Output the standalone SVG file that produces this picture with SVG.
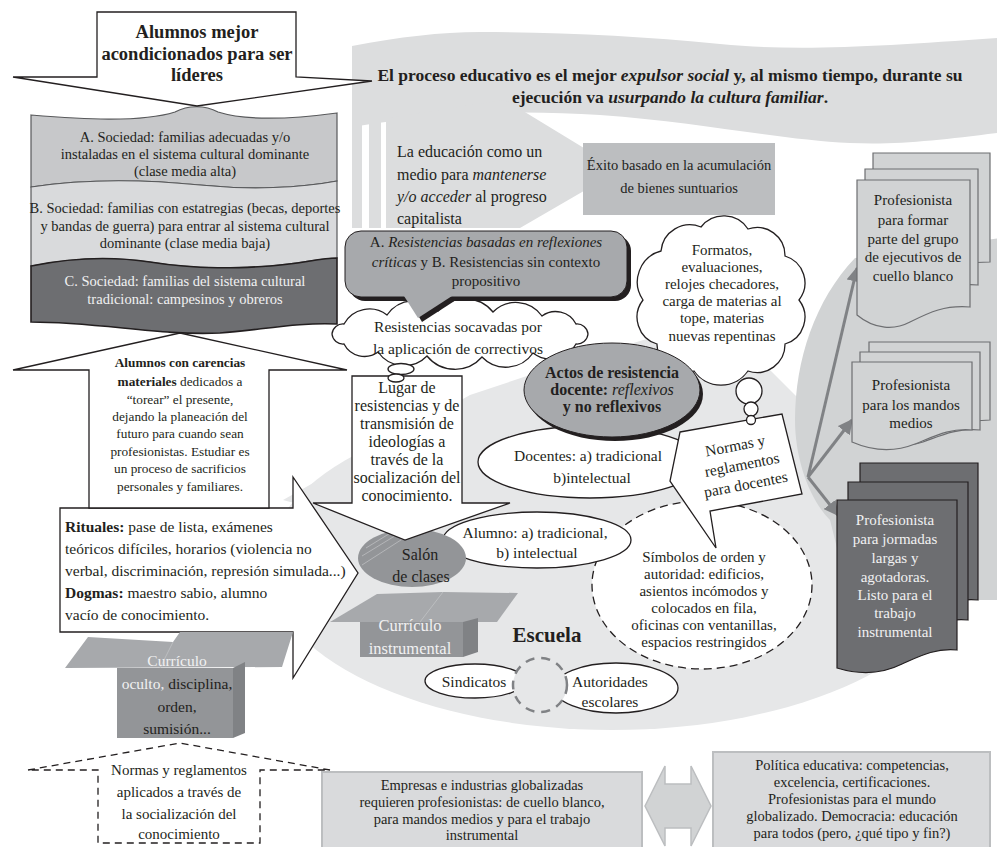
<svg xmlns="http://www.w3.org/2000/svg" width="997" height="847" viewBox="0 0 997 847">
<defs>
<style>
.t{font-family:"Liberation Serif","DejaVu Serif",serif;fill:#231f20;}
.c{text-anchor:middle;}
.b{font-weight:bold;}
.i{font-style:italic;}
.n{font-weight:normal;}
.w{fill:#f1f1f2;}
.o{stroke:#231f20;stroke-width:1.3;}
.pl{fill:#d1d3d4;stroke:#6d6e71;stroke-width:1.2;}
.pd{fill:#6d6e71;stroke:#231f20;stroke-width:1.2;}
.bx{fill:#d9dadc;stroke:#bcbec0;stroke-width:2;}
.ar{stroke:#808285;stroke-width:3;fill:none;}
</style>
<marker id="ah" viewBox="0 0 10 10" refX="9" refY="5" markerWidth="5" markerHeight="5" orient="auto"><path d="M0,0 L10,5 L0,10 z" fill="#808285"/></marker>
</defs>
<rect width="997" height="847" fill="#ffffff"/>

<g id="background">
<path d="M352,46 C400,37 440,32 480,32 C560,32 640,36 720,44 C800,52 880,46 997,38 L997,133 C940,140 900,145 850,143 C780,140 700,122 600,115 C520,110 440,112 352,127 Z" fill="#dcddde"/>
<rect x="352" y="118" width="10" height="110" fill="#dcddde"/>
<rect x="369" y="118" width="12" height="110" fill="#dcddde"/>
<path d="M386,118 L505,100 L620,170 L520,228 L386,228 Z" fill="#dcddde"/>
<ellipse cx="612" cy="565" rx="345" ry="165" fill="#e6e7e8"/>
<path d="M283,500 L470,395 L560,365 L660,335 L760,360 L830,430 L830,560 L500,560 Z" fill="#e6e7e8"/>
<path d="M855,258 C815,300 795,360 795,420 C795,460 810,500 830,520 L850,600 L1000,600 L1000,238 Z" fill="#d1d3d4"/>
</g>

<g id="title">
<text class="t b c" x="670" y="81" font-size="17.5">El proceso educativo es el mejor <tspan class="i">expulsor social</tspan> y, al mismo tiempo, durante su</text>
<text class="t b c" x="670" y="103" font-size="17.5">ejecución va <tspan class="i">usurpando la cultura familiar</tspan>.</text>
</g>

<g id="educacion-medio">
<text class="t" x="397" y="157" font-size="16">La educación como un</text>
<text class="t" x="397" y="180" font-size="16">medio para <tspan class="i">mantenerse</tspan></text>
<text class="t" x="397" y="202" font-size="16"><tspan class="i">y/o acceder</tspan> al progreso</text>
<text class="t" x="397" y="224" font-size="16">capitalista</text>
</g>

<g id="exito">
<rect x="583" y="143" width="192" height="72" fill="#bcbec0"/>
<text class="t c" x="679" y="170" font-size="14.5">Éxito basado en la acumulación</text>
<text class="t c" x="679" y="193" font-size="14.5">de bienes suntuarios</text>
</g>

<g id="sociedad">
<path d="M31,115 C80,119 140,123 175,112 C188,105 205,105 218,112 C250,122 300,118 337,113 L337,181 C300,188 250,190 200,185 C150,180 90,178 31,187 Z" fill="#c7c8ca" stroke="#58595b" stroke-width="1.2"/>
<path d="M31,187 C90,178 150,180 200,185 C250,190 300,188 337,181 L337,258 C320,258 300,264 270,266 C240,268 200,270 150,262 C110,256 70,258 31,266 Z" fill="#d9dadc" stroke="#58595b" stroke-width="1.2"/>
<path d="M31,266 C70,258 110,256 150,262 C200,270 240,268 270,266 C300,264 320,258 337,258 L337,324 C300,322 260,330 220,333 C160,336 100,322 31,322 Z" fill="#6d6e71" stroke="#231f20" stroke-width="1.6"/>
<text class="t c" x="185" y="142" font-size="14.5">A. Sociedad: familias adecuadas y/o</text>
<text class="t c" x="185" y="159" font-size="14.5">instaladas en el sistema cultural dominante</text>
<text class="t c" x="185" y="176" font-size="14.5">(clase media alta)</text>
<text class="t c" x="185" y="213" font-size="14.5">B. Sociedad: familias con estatregias (becas, deportes</text>
<text class="t c" x="185" y="231" font-size="14.5">y bandas de guerra) para entrar al sistema cultural</text>
<text class="t c" x="185" y="248" font-size="14.5">dominante (clase media baja)</text>
<text class="t c w" x="185" y="286" font-size="14.5">C. Sociedad: familias del sistema cultural</text>
<text class="t c w" x="185" y="304" font-size="14.5">tradicional: campesinos y obreros</text>
</g>

<g id="alumnos-mejor">
<path d="M97,12 L296,12 L296,77 L372,81 L197,106 L13,77 L97,77 Z" fill="#ffffff" class="o"/>
<text class="t b c" x="197" y="38" font-size="18.5">Alumnos mejor</text>
<text class="t b c" x="197" y="60" font-size="18.5">acondicionados para ser</text>
<text class="t b c" x="197" y="81" font-size="18.5">líderes</text>
</g>

<g id="formatos">
<path d="M643,300 A32 32 0 0 1 661,251 A29 29 0 0 1 701,227 A29 29 0 0 1 748,229 A28 28 0 0 1 785,256 A28 28 0 0 1 799,300 A28 28 0 0 1 785,344 A28 28 0 0 1 748,371 A33 33 0 0 1 694,371 A28 28 0 0 1 657,344 A28 28 0 0 1 643,300 Z" fill="#ffffff" class="o"/>
<text class="t c" x="722" y="255" font-size="15">Formatos,</text>
<text class="t c" x="722" y="272" font-size="15">evaluaciones,</text>
<text class="t c" x="722" y="289" font-size="15">relojes checadores,</text>
<text class="t c" x="722" y="306" font-size="15">carga de materias al</text>
<text class="t c" x="722" y="323" font-size="15">tope, materias</text>
<text class="t c" x="722" y="341" font-size="15">nuevas repentinas</text>
</g>

<g id="socavadas">
<path d="M332,334 A11 11 0 0 1 344,324 A29 29 0 0 1 387,315 A33 33 0 0 1 438,311 A36 36 0 0 1 493,312 A32 32 0 0 1 542,316 A23 23 0 0 1 576,324 A11 11 0 0 1 588,334 A11 11 0 0 1 576,344 A29 29 0 0 1 533,353 A33 33 0 0 1 482,357 A36 36 0 0 1 427,356 A32 32 0 0 1 378,352 A23 23 0 0 1 344,344 A11 11 0 0 1 332,334 Z" fill="#ffffff" class="o"/>
<text class="t c" x="458" y="332" font-size="15.5">Resistencias socavadas por</text>
<text class="t c" x="458" y="354" font-size="15.5">la aplicación de correctivos</text>
</g>

<g id="resistencias-ab">
<rect x="349" y="235" width="282" height="66" rx="16" fill="#231f20"/>
<path d="M409,300 L422,322 L456,300 Z" fill="#231f20"/>
<rect x="345" y="231" width="282" height="66" rx="16" fill="#a7a9ac" stroke="#231f20" stroke-width="1"/>
<path d="M404,296 L418,318 L452,296 Z" fill="#a7a9ac"/>
<text class="t c" x="486" y="247" font-size="15">A. <tspan class="i">Resistencias basadas en reflexiones</tspan></text>
<text class="t c" x="486" y="267" font-size="15"><tspan class="i">críticas</tspan> y B. Resistencias sin contexto</text>
<text class="t c" x="486" y="286" font-size="15">propositivo</text>
</g>

<g id="simbolos">
<ellipse cx="702" cy="585" rx="110" ry="84" fill="#ffffff" stroke="#231f20" stroke-width="1.3" stroke-dasharray="8 5"/>
<text class="t c" x="704" y="562" font-size="15">Símbolos de orden y</text>
<text class="t c" x="704" y="579" font-size="15">autoridad: edificios,</text>
<text class="t c" x="704" y="596" font-size="15">asientos incómodos y</text>
<text class="t c" x="704" y="613" font-size="15">colocados en fila,</text>
<text class="t c" x="704" y="630" font-size="15">oficinas con ventanillas,</text>
<text class="t c" x="704" y="647" font-size="15">espacios restringidos</text>
</g>

<g id="docentes">
<ellipse cx="590" cy="462" rx="112" ry="36" fill="#ffffff" class="o"/>
<text class="t c" x="588" y="461" font-size="15.5">Docentes: a) tradicional</text>
<text class="t c" x="592" y="483" font-size="15.5">b)intelectual</text>
</g>

<g id="alumno">
<ellipse cx="537" cy="540" rx="94" ry="28" fill="#ffffff" class="o"/>
<text class="t c" x="535" y="538" font-size="15.5">Alumno: a) tradicional,</text>
<text class="t c" x="537" y="558" font-size="15.5">b) intelectual</text>
</g>

<g id="actos">
<ellipse cx="615" cy="394" rx="88" ry="47" fill="#231f20"/>
<ellipse cx="612" cy="390" rx="88" ry="47" fill="#a7a9ac" stroke="#231f20" stroke-width="1"/>
<text class="t b c" x="612" y="378" font-size="16">Actos de resistencia</text>
<text class="t b c" x="612" y="395" font-size="16">docente: <tspan class="i n">reflexivos</tspan></text>
<text class="t b c" x="612" y="412" font-size="16">y no reflexivos</text>
</g>

<g id="normas-docentes">
<path d="M680,432 L782,414 L802,494 L710,511 L716,548 L670,481 Z" fill="#ffffff" class="o"/>
<g transform="translate(741,460) rotate(-11)">
<text class="t c" x="-3" y="-10" font-size="15.5">Normas y</text>
<text class="t c" x="0" y="10" font-size="15.5">reglamentos</text>
<text class="t c" x="0" y="30" font-size="15.5">para docentes</text>
</g>
<circle cx="749" cy="391" r="13" fill="#ffffff" class="o"/>
<circle cx="751" cy="409" r="7" fill="#ffffff" class="o"/>
<circle cx="751" cy="420" r="4.5" fill="#ffffff" class="o"/>
</g>

<g id="sindicatos">
<ellipse cx="475" cy="681" rx="50" ry="17" fill="#ffffff" class="o"/>
<text class="t c" x="474" y="687" font-size="15.5">Sindicatos</text>
</g>
<g id="autoridades">
<ellipse cx="616" cy="688" rx="62" ry="25" fill="#ffffff" class="o"/>
<text class="t c" x="610" y="687" font-size="15.5">Autoridades</text>
<text class="t c" x="610" y="707" font-size="15.5">escolares</text>
</g>
<g id="enlace-escolar">
<circle cx="540" cy="685" r="27" fill="#e6e7e8" stroke="#808285" stroke-width="2.5" stroke-dasharray="9 7"/>
</g>
<g id="escuela">
<text class="t b c" x="547" y="642" font-size="21">Escuela</text>
</g>

<g id="salon">
<ellipse cx="412" cy="558" rx="54" ry="29" fill="#939598"/>
<path d="M366,548 L392,532 M362,556 L398,534 M362,565 L404,538" stroke="#bcbec0" stroke-width="0.8" fill="none"/>
<text class="t c" x="420" y="560" font-size="16">Salón</text>
<text class="t c" x="421" y="582" font-size="16">de clases</text>
</g>

<g id="curriculo-instrumental">
<path d="M330,622 L377,594 L443,592 L518,593 L497,622 Z" fill="#a7a9ac"/>
<path d="M443,592 L420,622" stroke="#bcbec0" stroke-width="1" fill="none"/>
<rect x="360" y="622" width="103" height="35" fill="#939598"/>
<path d="M463,622 L478,618 L478,652 L463,657 Z" fill="#808285"/>
<text class="t c w" x="410" y="631" font-size="16.5">Currículo</text>
<text class="t c w" x="410" y="654" font-size="16.5">instrumental</text>
</g>

<g id="rituales">
<path d="M60,508 L293,508 L293,477 L358,573 L293,678 L293,632 L60,632 Z" fill="#ffffff" class="o"/>
<text class="t" x="65" y="532" font-size="15.5"><tspan class="b">Rituales:</tspan> pase de lista, exámenes</text>
<text class="t" x="65" y="554" font-size="15.5">teóricos difíciles, horarios (violencia no</text>
<text class="t" x="65" y="576" font-size="15.5">verbal, discriminación, represión simulada...)</text>
<text class="t" x="65" y="598" font-size="15.5"><tspan class="b">Dogmas:</tspan> maestro sabio, alumno</text>
<text class="t" x="65" y="620" font-size="15.5">vacío de conocimiento.</text>
</g>

<g id="alumnos-carencias">
<path d="M180,333 L347,370 L269,370 L269,508 L89,508 L89,370 L13,370 Z" fill="#ffffff" class="o"/>
<text class="t c b" x="180" y="367" font-size="13.3">Alumnos con carencias</text>
<text class="t c" x="180" y="386" font-size="13.3"><tspan class="b">materiales</tspan> dedicados a</text>
<text class="t c" x="180" y="404" font-size="13.3">“torear” el presente,</text>
<text class="t c" x="180" y="421" font-size="13.3">dejando la planeación del</text>
<text class="t c" x="180" y="438" font-size="13.3">futuro para cuando sean</text>
<text class="t c" x="180" y="456" font-size="13.3">profesionistas. Estudiar es</text>
<text class="t c" x="180" y="473" font-size="13.3">un proceso de sacrificios</text>
<text class="t c" x="180" y="491" font-size="13.3">personales y familiares.</text>
</g>

<g id="curriculo-oculto">
<path d="M65,668 L88,637 L173,642 L180,632 L293,632 L282,667 Z" fill="#a7a9ac"/>
<path d="M173,642 L160,668" stroke="#bcbec0" stroke-width="1" fill="none"/>
<rect x="117" y="668" width="116" height="70" fill="#939598"/>
<path d="M233,668 L245,662 L245,733 L233,738 Z" fill="#808285"/>
<text class="t c w" x="177" y="666" font-size="15.5">Currículo</text>
<text class="t c" x="177" y="689" font-size="15.5"><tspan class="w">oculto,</tspan> disciplina,</text>
<text class="t c" x="177" y="712" font-size="15.5">orden,</text>
<text class="t c" x="177" y="734" font-size="15.5">sumisión...</text>
</g>

<g id="normas-aplicados">
<path d="M28,770 L180,743 L330,770 L260,770 L260,843 L98,843 L98,770 Z" fill="#ffffff" stroke="#231f20" stroke-width="1.3" stroke-dasharray="7 5"/>
<text class="t c" x="179" y="775" font-size="15">Normas y reglamentos</text>
<text class="t c" x="179" y="797" font-size="15">aplicados a través de</text>
<text class="t c" x="179" y="819" font-size="15">la socialización del</text>
<text class="t c" x="179" y="839" font-size="15">conocimiento</text>
</g>

<g id="lugar">
<path d="M352,376 L462,376 L462,503 L510,503 L405,540 L313,503 L352,503 Z" fill="#ffffff" class="o"/>
<text class="t c" x="407" y="393" font-size="16">Lugar de</text>
<text class="t c" x="407" y="411" font-size="16">resistencias y de</text>
<text class="t c" x="407" y="429" font-size="16">transmisión de</text>
<text class="t c" x="407" y="447" font-size="16">ideologías a</text>
<text class="t c" x="407" y="465" font-size="16">través de la</text>
<text class="t c" x="407" y="483" font-size="16">socialización del</text>
<text class="t c" x="407" y="501" font-size="16">conocimiento.</text>
<ellipse cx="401" cy="369" rx="13" ry="5.5" fill="#ffffff" class="o"/>
<ellipse cx="396" cy="378" rx="8" ry="4" fill="#ffffff" class="o"/>
</g>

<g id="connectors">
<line x1="808" y1="477" x2="857" y2="268" class="ar" marker-end="url(#ah)"/>
<line x1="808" y1="477" x2="852" y2="420" class="ar" marker-end="url(#ah)"/>
<line x1="808" y1="477" x2="838" y2="515" class="ar" marker-end="url(#ah)"/>
<path d="M645,806 L665,766 L665,784 L691,784 L691,766 L711,806 L691,846 L691,828 L665,828 L665,846 Z" fill="#d1d3d4" stroke="#bcbec0" stroke-width="1.5"/>
</g>

<g id="profesionista-ejecutivos">
<path d="M873,153 H990 V262 C965,262 950,268 935,272 C915,278 895,276 873,270 Z" class="pl"/>
<path d="M865,169 H978 V285 C955,283 940,290 923,296 C903,302 883,300 865,292 Z" class="pl"/>
<path d="M857,180 H970 V307 C945,305 930,312 910,322 C895,330 875,330 857,315 Z" class="pl"/>
<text class="t c" x="913" y="205" font-size="15">Profesionista</text>
<text class="t c" x="913" y="225" font-size="15">para formar</text>
<text class="t c" x="913" y="244" font-size="15">parte del grupo</text>
<text class="t c" x="913" y="262" font-size="15">de ejecutivos de</text>
<text class="t c" x="913" y="281" font-size="15">cuello blanco</text>
</g>

<g id="profesionista-mandos">
<path d="M869,342 H990 V420 C965,420 950,428 935,432 C915,438 890,436 869,430 Z" class="pl"/>
<path d="M860,352 H980 V430 C955,428 940,436 923,442 C903,448 880,446 860,440 Z" class="pl"/>
<path d="M852,362 H972 V430 C950,428 935,436 915,444 C895,452 875,452 852,442 Z" class="pl"/>
<text class="t c" x="911" y="390" font-size="15">Profesionista</text>
<text class="t c" x="911" y="410" font-size="15">para los mandos</text>
<text class="t c" x="911" y="428" font-size="15">medios</text>
</g>

<g id="profesionista-instrumental">
<path d="M860,463 H978 V600 C955,598 940,606 925,612 C905,620 880,618 860,610 Z" class="pd"/>
<path d="M848,482 H968 V620 C945,618 930,626 915,632 C895,640 870,638 848,630 Z" class="pd"/>
<path d="M837,500 H957 V650 C935,648 920,656 902,664 C882,674 860,675 837,668 Z" class="pd"/>
<text class="t c w" x="895" y="525" font-size="15">Profesionista</text>
<text class="t c w" x="895" y="544" font-size="15">para jormadas</text>
<text class="t c w" x="895" y="563" font-size="15">largas y</text>
<text class="t c w" x="895" y="582" font-size="15">agotadoras.</text>
<text class="t c w" x="895" y="600" font-size="15">Listo para el</text>
<text class="t c w" x="895" y="618" font-size="15">trabajo</text>
<text class="t c w" x="895" y="637" font-size="15">instrumental</text>
</g>

<g id="empresas">
<rect x="322" y="772" width="320" height="84" class="bx"/>
<text class="t c" x="482" y="790" font-size="14.5">Empresas e industrias globalizadas</text>
<text class="t c" x="482" y="807" font-size="14.5">requieren profesionistas: de cuello blanco,</text>
<text class="t c" x="482" y="824" font-size="14.5">para mandos medios y para el trabajo</text>
<text class="t c" x="482" y="840" font-size="14.5">instrumental</text>
</g>

<g id="politica">
<rect x="713" y="752" width="277" height="104" class="bx"/>
<text class="t c" x="852" y="770" font-size="14.5">Política educativa: competencias,</text>
<text class="t c" x="852" y="787" font-size="14.5">excelencia, certificaciones.</text>
<text class="t c" x="852" y="804" font-size="14.5">Profesionistas para el mundo</text>
<text class="t c" x="852" y="821" font-size="14.5">globalizado. Democracia: educación</text>
<text class="t c" x="852" y="838" font-size="14.5">para todos (pero, ¿qué tipo y fin?)</text>
</g>
</svg>
